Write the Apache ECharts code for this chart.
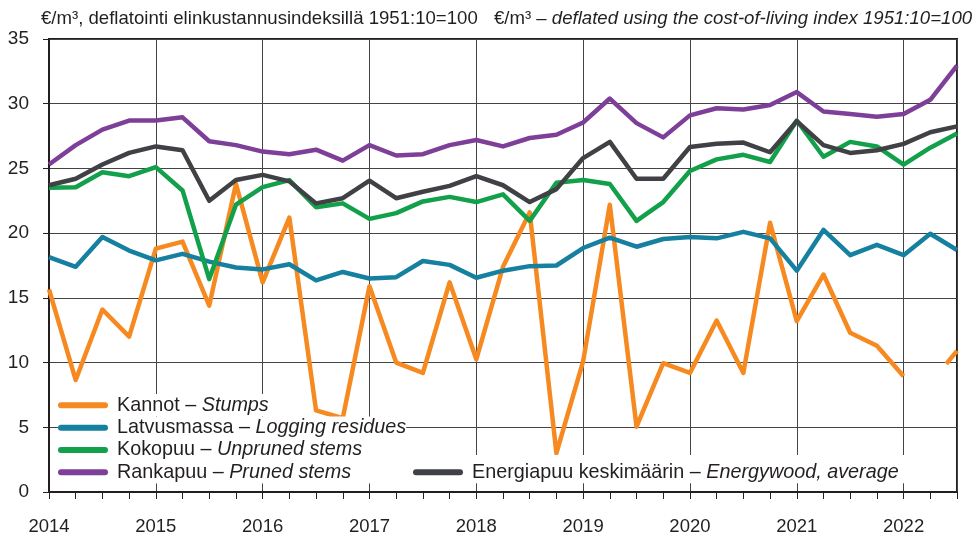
<!DOCTYPE html>
<html>
<head>
<meta charset="utf-8">
<script src="https://cdn.jsdelivr.net/npm/echarts@6/dist/echarts.min.js"></script>
<style>
  html, body { margin: 0; padding: 0; background: #ffffff; }
  #chart { width: 979px; height: 538px; }
</style>
</head>
<body>
<div id="chart"></div>
<script>
// Quarterly real prices of energy wood, €/m³ (deflated, 1951:10 = 100), 2014 Q1 – 2022 Q3
const firstYear = 2014;
const lastAxisYear = 2022.5;
const yearTicks = [2014, 2015, 2016, 2017, 2018, 2019, 2020, 2021, 2022];

const kannot = [15.65, 8.65, 14.1, 12.0, 18.8, 19.35, 14.4, 23.8, 16.2, 21.2, 6.3, 5.7,
  15.9, 10.0, 9.2, 16.2, 10.25, 17.4, 21.6, 3.0, 10.1, 22.2, 5.05, 9.95, 9.2, 13.25,
  9.2, 20.8, 13.2, 16.8, 12.3, 11.3, 8.95, null, 10.9];
// stump series resumes part-way through 2022 Q2
const kannotResume = { year: 2022.4, value: 9.9 };

const latvusmassa = [18.15, 17.4, 19.7, 18.65, 17.9, 18.4, 17.8, 17.35, 17.2, 17.6, 16.35, 17.0,
  16.5, 16.6, 17.85, 17.55, 16.55, 17.1, 17.45, 17.5, 18.85, 19.65, 18.95, 19.55, 19.7, 19.6,
  20.1, 19.6, 17.1, 20.25, 18.3, 19.1, 18.3, 19.95, 18.7];

const kokopuu = [23.5, 23.55, 24.7, 24.4, 25.1, 23.3, 16.45, 22.2, 23.55, 24.1, 22.0, 22.3,
  21.1, 21.55, 22.45, 22.8, 22.4, 23.0, 20.95, 23.9, 24.1, 23.8, 20.95, 22.4, 24.8, 25.7,
  26.05, 25.5, 28.7, 25.9, 27.05, 26.7, 25.3, 26.6, 27.7];

const rankapuu = [25.3, 26.8, 28.0, 28.7, 28.7, 28.95, 27.1, 26.8, 26.3, 26.1, 26.45, 25.6,
  26.8, 26.0, 26.1, 26.8, 27.2, 26.7, 27.35, 27.6, 28.55, 30.4, 28.5, 27.4, 29.1, 29.65,
  29.55, 29.9, 30.9, 29.4, 29.2, 29.0, 29.2, 30.3, 32.95];

const energiapuu = [23.7, 24.2, 25.3, 26.2, 26.7, 26.4, 22.5, 24.1, 24.5, 24.0, 22.3, 22.7,
  24.05, 22.7, 23.2, 23.65, 24.4, 23.7, 22.4, 23.4, 25.8, 27.05, 24.2, 24.2, 26.65, 26.9,
  27.0, 26.25, 28.65, 26.8, 26.2, 26.4, 26.9, 27.8, 28.25];

const seriesNames = ['Kannot', 'Latvusmassa', 'Kokopuu', 'Rankapuu', 'Energiapuu keskimäärin'];
const englishNames = {
  'Kannot': 'Stumps',
  'Latvusmassa': 'Logging residues',
  'Kokopuu': 'Unpruned stems',
  'Rankapuu': 'Pruned stems',
  'Energiapuu keskimäärin': 'Energywood, average'
};
const colors = {
  'Kannot': '#f6891f',
  'Latvusmassa': '#15809f',
  'Kokopuu': '#12a04b',
  'Rankapuu': '#7e3f98',
  'Energiapuu keskimäärin': '#3f4144'
};
const titleFi = '€/m³, deflatointi elinkustannusindeksillä 1951:10=100';
const titleEnNormal = '€/m³ – ';
const titleEnItalic = 'deflated using the cost-of-living index 1951:10=100';

const FONT = "'Liberation Sans', Arial, sans-serif";
const INK = '#231f20';
const LEGEND_SIZE = 19.8;
const TITLE_SIZE = 18.6;
const AXIS_SIZE = 18.5;

// quarter i sits at year + i/4
function toPairs(values) {
  return values.map((v, i) => [firstYear + i / 4, v]);
}
const kannotPairs = toPairs(kannot);
kannotPairs.splice(kannot.length - 1, 0, [kannotResume.year, kannotResume.value]);

const dataByName = {
  'Kannot': kannotPairs,
  'Latvusmassa': toPairs(latvusmassa),
  'Kokopuu': toPairs(kokopuu),
  'Rankapuu': toPairs(rankapuu),
  'Energiapuu keskimäärin': toPairs(energiapuu)
};

const capsule = 'path://M3,0L47,0A3,3,0,0,1,47,6L3,6A3,3,0,0,1,3,0Z';
const legendRich = {
  n: { fontFamily: FONT, fontSize: LEGEND_SIZE, color: INK, lineHeight: 22.3, padding: [0, 0, 0, 4] },
  e: { fontFamily: FONT, fontSize: LEGEND_SIZE, color: INK, lineHeight: 22.3, fontStyle: 'italic' }
};
function legendBlock(names, pos, extra) {
  return Object.assign({
    data: names,
    orient: 'vertical',
    left: pos.left,
    top: pos.top,
    padding: 0,
    itemGap: 0,
    itemWidth: 50,
    itemHeight: 6,
    icon: capsule,
    selectedMode: false,
    backgroundColor: '#ffffff',
    formatter: name => `{n|${name} – }{e|${englishNames[name]}}`,
    textStyle: { fontFamily: FONT, fontSize: LEGEND_SIZE, color: INK, lineHeight: 22.3, rich: legendRich }
  }, extra || {});
}

const chart = echarts.init(document.getElementById('chart'), null, { renderer: 'canvas' });

chart.setOption({
  animation: false,
  backgroundColor: '#ffffff',
  title: [
    {
      text: titleFi,
      left: 41, top: 9, padding: 0,
      textStyle: { fontFamily: FONT, fontSize: TITLE_SIZE, fontWeight: 'normal', color: INK }
    },
    {
      text: `{n|${titleEnNormal}}{i|${titleEnItalic}}`,
      left: 494, top: 9, padding: 0,
      textStyle: {
        fontFamily: FONT, fontSize: TITLE_SIZE, fontWeight: 'normal', color: INK,
        rich: {
          n: { fontFamily: FONT, fontSize: TITLE_SIZE, color: INK },
          i: { fontFamily: FONT, fontSize: TITLE_SIZE, color: INK, fontStyle: 'italic' }
        }
      }
    }
  ],
  legend: [
    legendBlock(['Kannot'], { left: 58, top: 394 }),
    legendBlock(['Latvusmassa', 'Kokopuu', 'Rankapuu'], { left: 58, top: 416.5 }),
    legendBlock(['Energiapuu keskimäärin'], { left: 409, top: 455 }, { padding: [6, 8, 0, 4] })
  ],
  grid: {
    left: 49, right: 22, top: 39, bottom: 46,
    show: true, borderColor: INK, borderWidth: 2, backgroundColor: 'transparent'
  },
  xAxis: [
    {
      // quarter ticks along the bottom edge
      type: 'value', min: firstYear, max: lastAxisYear, interval: 0.25,
      axisLine: { show: true, onZero: false, lineStyle: { color: INK, width: 2 } },
      axisTick: { show: true, inside: false, length: 7, lineStyle: { color: INK, width: 1 } },
      axisLabel: { show: false },
      splitLine: { show: false }
    },
    {
      // year labels and year gridlines
      type: 'value', min: firstYear, max: lastAxisYear, interval: 1, position: 'bottom',
      axisLine: { show: false, onZero: false },
      axisTick: { show: false },
      axisLabel: {
        show: true, margin: 25, fontFamily: FONT, fontSize: AXIS_SIZE, color: INK,
        formatter: v => (yearTicks.includes(v) ? String(v) : '')
      },
      splitLine: { show: true, lineStyle: { color: '#444444', width: 1 } }
    }
  ],
  yAxis: {
    type: 'value', min: 0, max: 35, interval: 5,
    axisLine: { show: true, lineStyle: { color: INK, width: 2 } },
    axisTick: { show: true, inside: false, length: 6, lineStyle: { color: INK, width: 1 } },
    axisLabel: { margin: 20, fontFamily: FONT, fontSize: AXIS_SIZE + 0.5, color: INK },
    splitLine: { show: true, lineStyle: { color: '#444444', width: 1 } }
  },
  series: seriesNames.map(name => ({
    name: name,
    type: 'line',
    xAxisIndex: 0,
    yAxisIndex: 0,
    data: dataByName[name],
    showSymbol: false,
    symbol: 'none',
    connectNulls: false,
    color: colors[name],
    lineStyle: { color: colors[name], width: 4.5, join: 'round', cap: 'butt' },
    emphasis: { disabled: true }
  }))
});
</script>
</body>
</html>
